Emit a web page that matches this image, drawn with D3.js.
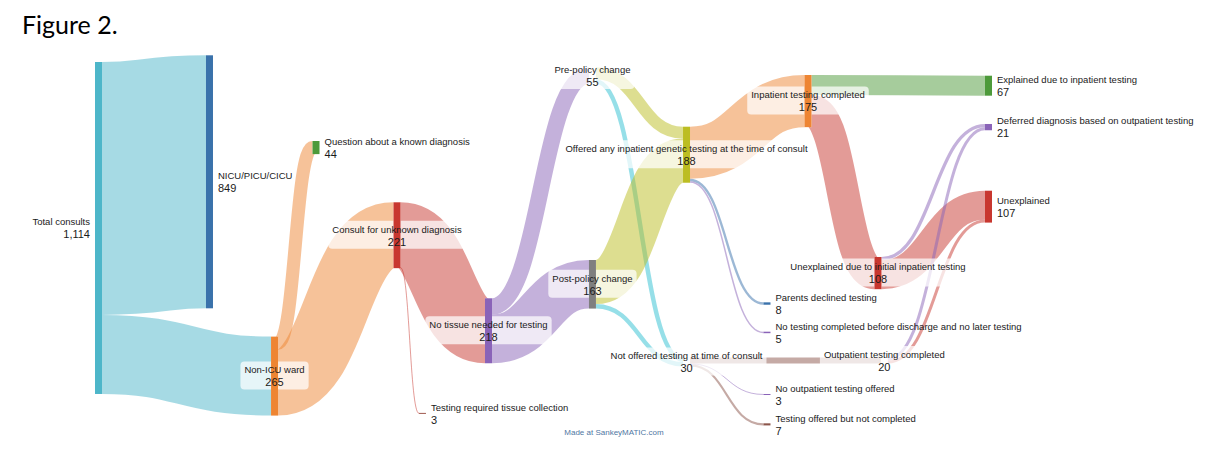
<!DOCTYPE html>
<html>
<head>
<meta charset="utf-8">
<script src="https://cdn.jsdelivr.net/npm/d3@7"></script>
<style>
body { margin: 0; background: #fff; }
svg text { font-family: "Liberation Sans", Arial, sans-serif; fill: #1a1a1a; }
</style>
</head>
<body>
<svg width="1216" height="454"></svg>
<script>
// ---- data ----
var nodeNames = [
    'Total consults',
    'NICU/PICU/CICU',
    'Non-ICU ward',
    'Question about a known diagnosis',
    'Consult for unknown diagnosis',
    'Testing required tissue collection',
    'No tissue needed for testing',
    'Pre-policy change',
    'Post-policy change',
    'Offered any inpatient genetic testing at the time of consult',
    'Not offered testing at time of consult',
    'Parents declined testing',
    'No testing completed before discharge and no later testing',
    'No outpatient testing offered',
    'Testing offered but not completed',
    'Inpatient testing completed',
    'Unexplained due to initial inpatient testing',
    'Outpatient testing completed',
    'Explained due to inpatient testing',
    'Deferred diagnosis based on outpatient testing',
    'Unexplained'
];

var flowFrom = [
    'Total consults', 'Total consults',
    'Non-ICU ward', 'Non-ICU ward',
    'Consult for unknown diagnosis', 'Consult for unknown diagnosis',
    'No tissue needed for testing', 'No tissue needed for testing',
    'Pre-policy change', 'Pre-policy change',
    'Post-policy change', 'Post-policy change',
    'Offered any inpatient genetic testing at the time of consult',
    'Offered any inpatient genetic testing at the time of consult',
    'Offered any inpatient genetic testing at the time of consult',
    'Not offered testing at time of consult',
    'Not offered testing at time of consult',
    'Not offered testing at time of consult',
    'Inpatient testing completed', 'Inpatient testing completed',
    'Unexplained due to initial inpatient testing', 'Unexplained due to initial inpatient testing',
    'Outpatient testing completed', 'Outpatient testing completed'
];
var flowTo = [
    'NICU/PICU/CICU', 'Non-ICU ward',
    'Question about a known diagnosis', 'Consult for unknown diagnosis',
    'No tissue needed for testing', 'Testing required tissue collection',
    'Pre-policy change', 'Post-policy change',
    'Offered any inpatient genetic testing at the time of consult', 'Not offered testing at time of consult',
    'Offered any inpatient genetic testing at the time of consult', 'Not offered testing at time of consult',
    'Inpatient testing completed', 'Parents declined testing',
    'No testing completed before discharge and no later testing',
    'Outpatient testing completed', 'No outpatient testing offered', 'Testing offered but not completed',
    'Explained due to inpatient testing', 'Unexplained due to initial inpatient testing',
    'Deferred diagnosis based on outpatient testing', 'Unexplained',
    'Deferred diagnosis based on outpatient testing', 'Unexplained'
];
var flowValues = [849, 265, 44, 221, 218, 3, 55, 163, 40, 15, 148, 15,
                  175, 8, 5, 20, 3, 7, 67, 108, 11, 97, 10, 10];

// ---- layout: the nodes were dragged by hand in SankeyMATIC ----
// horizontal place as a share of the diagram width, top as an offset in flow units
var nodeColumn = [0, 0.1247, 0.1978, 0.2444, 0.3354, 0.364, 0.4382, 0.555, 0.555,
                  0.6607, 0.6607, 0.7511, 0.7511, 0.7511, 0.7511, 0.7972, 0.8758, 0.883,
                  1, 1, 1];
var nodeOffset = [22.5, 0, 944, 287.6, 493.3, 1200, 815.4, 40.3, 686.9,
                  239.6, 1014, 829, 927.5, 1136.6, 1235, 66.1, 676.8, 1014,
                  68.5, 230.5, 454.4];

var nodeColors = ['#4db6c9', '#3a72ab', '#ee8533', '#4d9a3a', '#c8372f', '#a05a50', '#8a63b8',
                  '#b59ad0', '#7f7f7f', '#bcbd22', '#2ec0d2', '#3a72ab', '#8a63b8', '#8a63b8',
                  '#8c564b', '#ee8533', '#c8372f', '#8c564b', '#4d9a3a', '#8a63b8', '#c8372f'];
// these bars are covered by their label boxes in the figure
var hiddenNodes = ['Pre-policy change', 'Not offered testing at time of consult',
                   'Outpatient testing completed'];

var svg = d3.select('svg');
var nodeWidth = 7;

var xScale = d3.scaleLinear().domain([0, 1]).range([95, 985]);
var yScale = d3.scaleLinear().domain([0, 1300]).range([55.3, 55.3 + 1300 * 0.298]);
var midX = (xScale(0) + xScale(1) + nodeWidth) / 2;

var nodes = nodeNames.map(function(name, i) {
    return {name: name, index: i, color: nodeColors[i], inFlows: [], outFlows: []};
});
var links = flowValues.map(function(v, i) {
    var l = {
        source: nodes[nodeNames.indexOf(flowFrom[i])],
        target: nodes[nodeNames.indexOf(flowTo[i])],
        value: v,
        width: yScale(v) - yScale(0)
    };
    l.source.outFlows.push(l);
    l.target.inFlows.push(l);
    return l;
});

nodes.forEach(function(n) {
    n.value = Math.max(d3.sum(n.inFlows, function(d) { return d.value; }),
                       d3.sum(n.outFlows, function(d) { return d.value; }));
    n.x0 = xScale(nodeColumn[n.index]);
    n.x1 = n.x0 + nodeWidth;
    n.y0 = yScale(nodeOffset[n.index]);
    n.y1 = yScale(nodeOffset[n.index] + n.value);
});

// stack flows at each node, ordered by where the other end sits
nodes.forEach(function(n) {
    n.outFlows.sort(function(a, b) { return a.target.y0 - b.target.y0; });
    n.inFlows.sort(function(a, b) { return a.source.y0 - b.source.y0; });
    var sy = n.y0;
    n.outFlows.forEach(function(l) { l.y0 = sy + l.width / 2; sy += l.width; });
    var ty = n.y0;
    n.inFlows.forEach(function(l) { l.y1 = ty + l.width / 2; ty += l.width; });
});

// title
svg.append('text')
    .attr('x', 22)
    .attr('y', 34)
    .style('font-family', 'Lato, "Open Sans", sans-serif')
    .style('font-size', '25px')
    .style('fill', '#000')
    .text('Figure 2.');

var chartG = svg.append('g');

// flows: outside-in colouring
var linkPath = d3.linkHorizontal()
    .source(function(d) { return [d.source.x1, d.y0]; })
    .target(function(d) { return [d.target.x0, d.y1]; });

chartG.append('g')
    .selectAll('path')
    .data(links)
    .enter()
    .append('path')
    .attr('d', linkPath)
    .attr('fill', 'none')
    .attr('stroke', function(d) {
        var mx = (d.source.x1 + d.target.x0) / 2;
        return mx < midX ? d.source.color : d.target.color;
    })
    .attr('stroke-opacity', 0.5)
    .attr('stroke-width', function(d) { return Math.max(1, d.width); });

function labelSide(n) {
    if (!n.inFlows.length) return 'left';
    if (!n.outFlows.length) return 'right';
    return 'center';
}

var fmt = d3.format(',');
var boxG = chartG.append('g');
var nodeG = chartG.append('g');
var textG = chartG.append('g');

nodes.forEach(function(n) {
    var side = labelSide(n);
    var cy = (n.y0 + n.y1) / 2;
    var tx, anchor;
    if (side === 'left') { tx = n.x0 - 5; anchor = 'end'; }
    else if (side === 'right') { tx = n.x1 + 5; anchor = 'start'; }
    else { tx = (n.x0 + n.x1) / 2; anchor = 'middle'; }

    var t1 = textG.append('text')
        .attr('x', tx)
        .attr('y', cy - 6)
        .attr('dy', '0.35em')
        .attr('text-anchor', anchor)
        .style('font-size', '9.5px')
        .text(n.name);
    var t2 = textG.append('text')
        .attr('x', tx)
        .attr('y', cy + 6.5)
        .attr('dy', '0.35em')
        .attr('text-anchor', anchor)
        .style('font-size', '11px')
        .text(fmt(n.value));

    if (side === 'center') {
        var w = Math.max(t1.node().getComputedTextLength(), t2.node().getComputedTextLength()) + 8;
        boxG.append('rect')
            .attr('x', tx - w / 2)
            .attr('y', cy - 14.5)
            .attr('width', w)
            .attr('height', 28)
            .attr('rx', 4)
            .attr('fill', '#fff')
            .attr('fill-opacity', 0.72);
    }
});

nodeG.selectAll('rect')
    .data(nodes.filter(function(n) { return hiddenNodes.indexOf(n.name) < 0; }))
    .enter()
    .append('rect')
    .attr('x', function(d) { return d.x0; })
    .attr('y', function(d) { return d.y0; })
    .attr('width', nodeWidth)
    .attr('height', function(d) { return Math.max(1, d.y1 - d.y0); })
    .attr('fill', function(d) { return d.color; });

svg.append('text')
    .attr('x', 614)
    .attr('y', 435)
    .attr('text-anchor', 'middle')
    .style('font-size', '8px')
    .style('fill', '#4f77a3')
    .text('Made at SankeyMATIC.com');
</script>
</body>
</html>
